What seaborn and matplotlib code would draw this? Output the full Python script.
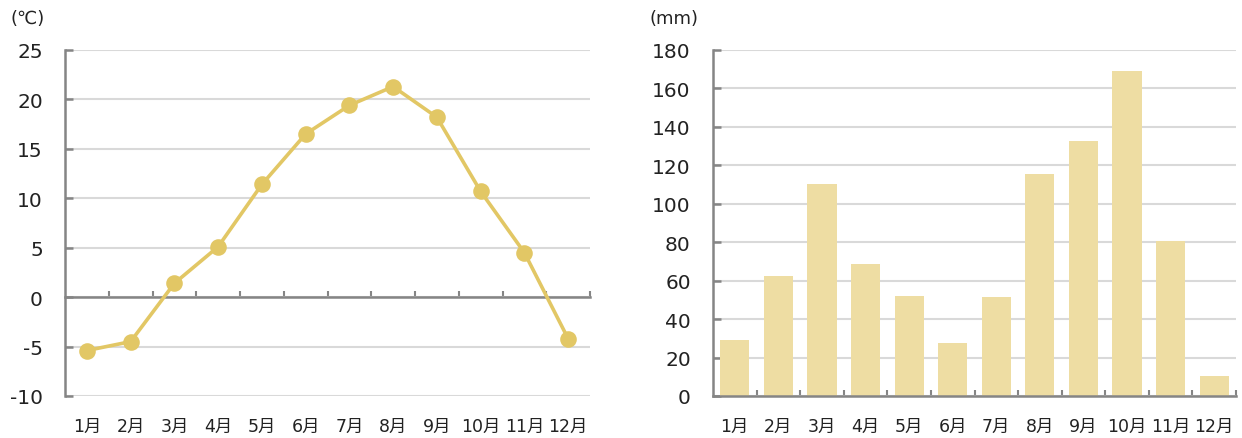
import numpy as np
import pandas as pd
import matplotlib
matplotlib.use("Agg")
import matplotlib.pyplot as plt
from matplotlib.ticker import FixedLocator
import seaborn as sns

# Monthly climate normals
months = ["1月", "2月", "3月", "4月", "5月", "6月", "7月", "8月", "9月", "10月", "11月", "12月"]
temperature = [-5.4, -4.5, 1.4, 5.1, 11.4, 16.5, 19.4, 21.3, 18.2, 10.7, 4.5, -4.2]
precipitation = [29.0, 62.5, 110.5, 68.5, 52.0, 27.5, 51.5, 115.5, 132.5, 169.0, 80.5, 10.5]

temp_ticks = [-10, -5, 0, 5, 10, 15, 20, 25]
precip_ticks = list(range(0, 181, 20))

LINE_COLOR = "#E2C765"
BAR_COLOR = "#EEDDA3"
GRID_COLOR = "#D9D9D9"
SPINE_COLOR = "#858585"
TEXT_COLOR = "#222222"

sns.set_theme(style="white")
plt.rcParams["font.family"] = ["DejaVu Sans", "Noto Sans CJK JP"]
plt.rcParams["text.color"] = TEXT_COLOR
plt.rcParams["xtick.color"] = TEXT_COLOR
plt.rcParams["ytick.color"] = TEXT_COLOR
plt.rcParams["xtick.direction"] = "in"
plt.rcParams["ytick.direction"] = "in"

df_temp = pd.DataFrame({"month": months, "temp": temperature})
df_prec = pd.DataFrame({"month": months, "prec": precipitation})

W, H = 1242, 439
fig = plt.figure(figsize=(W / 100, H / 100), dpi=100)
ax1 = fig.add_axes([65 / W, 42 / H, 525 / W, 346 / H])
ax2 = fig.add_axes([713 / W, 42 / H, 523 / W, 346 / H])

boundaries = np.arange(len(months)) + 0.5


def style_axis(ax, yticks):
    ax.set_xlim(-0.5, len(months) - 0.5)
    ax.set_ylim(yticks[0], yticks[-1])
    ax.set_yticks(yticks)
    ax.set_yticklabels([str(t) for t in yticks])
    ax.set_axisbelow(True)
    ax.yaxis.grid(True, color=GRID_COLOR, linewidth=1.5)
    ax.xaxis.grid(False)
    for side in ("top", "right"):
        ax.spines[side].set_visible(False)
    for side in ("left", "bottom"):
        ax.spines[side].set_color(SPINE_COLOR)
        ax.spines[side].set_linewidth(1.8)
    ax.tick_params(axis="y", direction="in", length=6, width=1.8,
                   color=SPINE_COLOR, labelcolor=TEXT_COLOR,
                   labelsize=14.5, pad=16, left=True)
    ax.set_xlabel("")
    ax.set_ylabel("")


# Temperature line chart
sns.pointplot(data=df_temp, x="month", y="temp", order=months, color=LINE_COLOR,
              markers="o", markersize=10, linewidth=2.6, ax=ax1, zorder=3)
style_axis(ax1, temp_ticks)
ax1.spines["bottom"].set_position(("data", 0))
ax1.xaxis.set_minor_locator(FixedLocator(boundaries))
ax1.tick_params(axis="x", which="minor", direction="in", length=4, width=1.5,
                color=SPINE_COLOR, bottom=True)
ax1.tick_params(axis="x", which="major", length=0, labelbottom=False)
sec = ax1.secondary_xaxis("bottom")
sec.set_xticks(range(len(months)))
sec.set_xticklabels(months)
sec.spines["bottom"].set_visible(False)
sec.tick_params(axis="x", length=0, labelsize=12.5, pad=15, colors=TEXT_COLOR)

# Precipitation bar chart
sns.barplot(data=df_prec, x="month", y="prec", order=months, color=BAR_COLOR,
            saturation=1, width=0.67, linewidth=0, ax=ax2, zorder=2)
style_axis(ax2, precip_ticks)
ax2.xaxis.set_minor_locator(FixedLocator(boundaries))
ax2.tick_params(axis="x", which="minor", direction="in", length=4, width=1.5,
                color=SPINE_COLOR, bottom=True)
ax2.tick_params(axis="x", which="major", length=0, labelsize=12.5, pad=15,
                labelcolor=TEXT_COLOR)

# Unit captions
fig.text(28 / W, 1 - 19 / H, "(℃)", ha="center", va="center", fontsize=13)
fig.text(674 / W, 1 - 19 / H, "(mm)", ha="center", va="center", fontsize=13)

fig.savefig("out.png", dpi=100)
